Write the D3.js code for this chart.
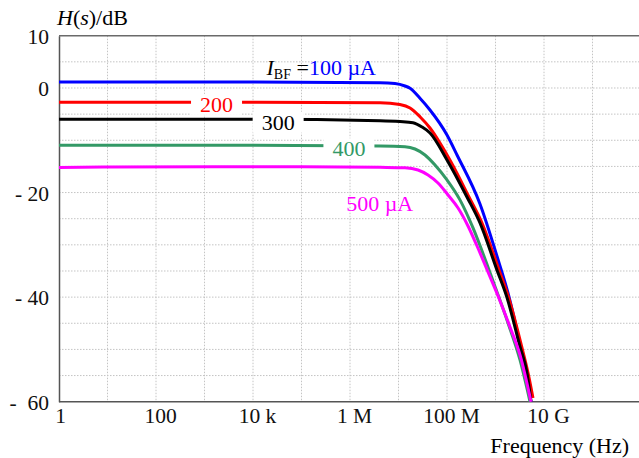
<!DOCTYPE html>
<html lang="en">
<head>
<meta charset="UTF-8">
<title>H(s) vs frequency</title>
<style>
    html, body { margin: 0; background: #fff; }
    svg { display: block; font-family: "Liberation Serif", "Times New Roman", serif; }
    .grid line { stroke: #c4c4c4; stroke-width: 1; stroke-dasharray: 1.5,1.5; }
    .axis path { stroke: #555; stroke-width: 1.5; }
    .axis text { font-size: 21.5px; fill: #111; font-family: "Liberation Serif", serif; }
</style>
</head>
<body>
<div class="chart"></div>
<script src="https://d3js.org/d3.v7.min.js"></script>
<script>
// frequency points (Hz) and gain (dB) per bias current
var freqBlue  = [1, 1e4, 4.16e6, 8.47e6, 1.36e7, 1.73e7, 2.77e7, 4.46e7, 1.0e8, 1.61e8, 4.79e8, 1.07e9, 1.81e9, 3.2e9, 5.4e9];
var gainBlue  = [1.15, 1.15, 1.01, 0.86, 0.38, -0.06, -1.97, -4.21, -8.99, -12.81, -22.18, -32.13, -39.2, -49.1, -60];

var freqRed   = [1, 1e4, 4.16e6, 1.07e7, 1.73e7, 2.77e7, 4.46e7, 7.17e7, 1.21e8, 2.84e8, 5.27e8, 1.18e9, 1.85e9, 3.44e9, 4.79e9, 5.93e9];
var gainRed   = [-2.73, -2.73, -2.81, -3.16, -3.82, -5.49, -7.65, -10.52, -14.15, -20.85, -25.82, -34.8, -39.97, -49.34, -54.9, -59.3];

var freqBlack = [1, 1e4, 4.16e6, 1.07e7, 1.99e7, 3.05e7, 4.46e7, 1.0e8, 2.58e8, 4.79e8, 1.07e9, 1.7e9, 3.2e9, 4.46e9, 5.4e9];
var gainBlack = [-5.99, -5.99, -6.25, -6.41, -6.64, -7.46, -8.61, -13.77, -20.85, -25.82, -34.8, -39.91, -49.47, -54.5, -60];

var freqGreen = [1, 1e4, 4.16e6, 1.36e7, 2.19e7, 3.52e7, 5.66e7, 1.0e8, 1.85e8, 3.44e8, 6.08e8, 1.02e9, 1.81e9, 3.2e9, 5.14e9];
var gainGreen = [-10.96, -10.96, -11.09, -11.23, -11.67, -12.81, -14.73, -17.59, -21.4, -26.77, -32.7, -38.44, -44.94, -52.02, -60];

var freqMag   = [1, 10, 1e5, 4.16e6, 1.36e7, 2.53e7, 4.06e7, 6.52e7, 1.05e8, 1.69e8, 2.71e8, 4.16e8, 7.0e8, 1.24e9, 1.99e9, 3.2e9, 5.4e9];
var gainMag   = [-15.2, -15.1, -15.05, -15.17, -15.26, -15.68, -16.64, -18.17, -20.46, -22.95, -26.39, -30.22, -35.19, -40.73, -45.71, -51.06, -60];

var seriesNames  = ["100", "200", "300", "400", "500"];
var seriesColors = ["#0000ff", "#ff0000", "#000000", "#339966", "#ff00ff"];
var seriesFreq   = [freqBlue, freqRed, freqBlack, freqGreen, freqMag];
var seriesGain   = [gainBlue, gainRed, gainBlack, gainGreen, gainMag];

// axis ticks
var xTickValues = [1, 1e2, 1e4, 1e6, 1e8, 1e10];
var xTickLabels = ["1", "100", "10 k", "1 M", "100 M", "10 G"];
var yTickValues = [10, 0, -20, -40, -60];
var yTickLabels = ["10", "0", "- 20", "- 40", "-  60"];

// inline curve labels (centre in data units)
var labelText  = ["200", "300", "400", "500 µA"];
var labelFreq  = [1.77e3, 3.3e4, 9.5e5, 4.1e6];
var labelGain  = [-3.1, -6.5, -11.6, -22.0];
var labelColor = ["#ff0000", "#000000", "#339966", "#ff00ff"];
var labelGap   = [true, true, true, false];

var width = 639, height = 458;
var x = d3.scaleLog().domain([1, 1e12]).range([59, 641]);
var y = d3.scaleLinear().domain([-60, 10]).range([401.7, 35.7]);

var svg = d3.select(".chart").append("svg")
    .attr("width", width).attr("height", height);

// grid
var grid = svg.append("g").attr("class", "grid");
grid.selectAll(".v").data(d3.range(1, 13).map(function (p) { return Math.pow(10, p); }))
    .enter().append("line")
    .attr("x1", d => x(d)).attr("x2", d => x(d))
    .attr("y1", y(10)).attr("y2", y(-60));
grid.selectAll(".h").data(d3.range(-55, 10, 5))
    .enter().append("line")
    .attr("x1", x(1)).attr("x2", width)
    .attr("y1", d => y(d)).attr("y2", d => y(d));

// top border
svg.append("line")
    .attr("x1", x(1)).attr("x2", width)
    .attr("y1", y(10)).attr("y2", y(10))
    .attr("stroke", "#6a6a6a").attr("stroke-width", 1.5);

// axes
var xAxis = d3.axisBottom(x).tickValues(xTickValues)
    .tickFormat((d, i) => xTickLabels[i]).tickSize(0).tickPadding(6);
var gx = svg.append("g").attr("class", "axis")
    .attr("transform", `translate(0, ${y(-60)})`).call(xAxis);
gx.select(".domain").attr("d", `M${x(1)},0H${width}`);
gx.selectAll("text").attr("dx", (d, i) => i == 0 ? 1 : 4);

var yAxis = d3.axisLeft(y).tickValues(yTickValues)
    .tickFormat((d, i) => yTickLabels[i]).tickSize(0).tickPadding(10);
var gy = svg.append("g").attr("class", "axis")
    .attr("transform", `translate(${x(1)}, 0)`).call(yAxis);
gy.selectAll("text").style("white-space", "pre").attr("dy", "0.36em");

// curves
var line = d3.line()
    .x(d => x(d[0])).y(d => y(d[1]))
    .curve(d3.curveMonotoneX);

seriesNames.forEach(function (name, k) {
    var pts = seriesFreq[k].map((f, i) => [f, seriesGain[k][i]]);
    svg.append("path")
        .attr("d", line(pts))
        .attr("fill", "none")
        .attr("stroke", seriesColors[k])
        .attr("stroke-width", 3)
        .attr("stroke-linejoin", "round");
});

// inline labels with white gaps
labelText.forEach(function (t, i) {
    var g = svg.append("g");
    var txt = g.append("text")
        .attr("x", x(labelFreq[i])).attr("y", y(labelGain[i]))
        .attr("text-anchor", "middle").attr("dy", "0.35em")
        .attr("font-size", 22).attr("fill", labelColor[i])
        .text(t);
    if (labelGap[i]) {
        var b = txt.node().getBBox();
        g.insert("rect", "text")
            .attr("x", b.x - 9).attr("y", b.y + 2)
            .attr("width", b.width + 18).attr("height", b.height - 4)
            .attr("fill", "#fff");
    }
});

// label for the 100 µA curve
var topLabel = svg.append("text")
    .attr("x", x(1.9e4)).attr("y", y(2.5))
    .attr("font-size", 22);
topLabel.append("tspan").attr("font-style", "italic").text("I");
topLabel.append("tspan").attr("font-size", 14).attr("dy", 4).text("BF");
topLabel.append("tspan").attr("dy", -4).text(" =");
topLabel.append("tspan").attr("fill", "#0000ff").text("100 µA");

// axis titles
var yt = svg.append("text").attr("x", 57).attr("y", 25).attr("font-size", 22);
yt.append("tspan").attr("font-style", "italic").text("H");
yt.append("tspan").text("(");
yt.append("tspan").attr("font-style", "italic").text("s");
yt.append("tspan").text(")/dB");

svg.append("text").attr("x", 629).attr("y", 453)
    .attr("text-anchor", "end").attr("font-size", 22)
    .text("Frequency (Hz)");
</script>
</body>
</html>
